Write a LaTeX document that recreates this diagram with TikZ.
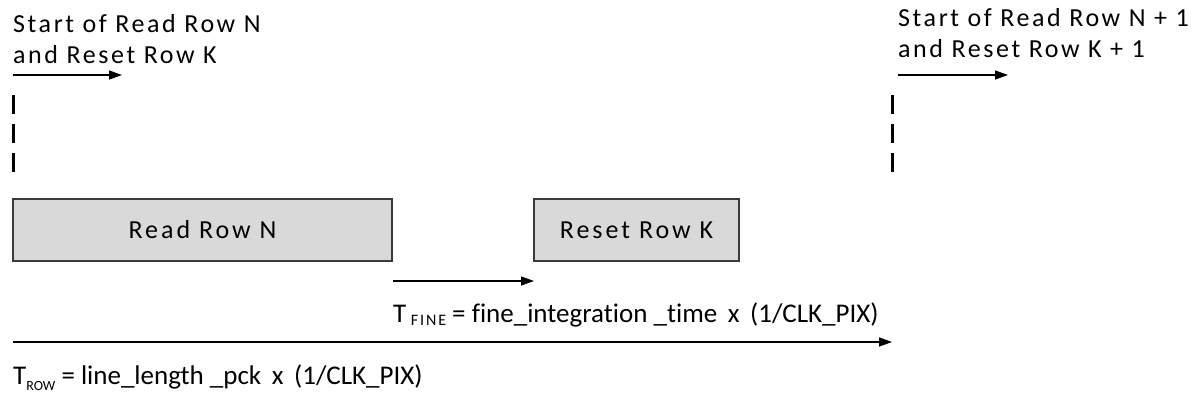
\documentclass[tikz,border=0pt]{standalone}
\usepackage{fontspec}
\setmainfont[Ligatures={NoCommon}]{Carlito}
\newfontfamily\spaced[LetterSpace=11.5,Ligatures={NoCommon}]{Carlito}
\newfontfamily\topspaced[LetterSpace=10,Ligatures={NoCommon}]{Carlito}
\newfontfamily\subspaced[LetterSpace=12]{Carlito}
\usetikzlibrary{arrows.meta}
\definecolor{boxfill}{HTML}{D9D9D9}
\definecolor{boxline}{HTML}{3A3A3A}
\tikzset{
  lbl/.style={inner sep=0pt, anchor=base west, align=left},
  toplbl/.style={lbl, font=\topspaced\fontsize{26}{30.5}\selectfont},
  eqlbl/.style={lbl, font=\fontsize{27}{32}\selectfont},
  rowbox/.style={draw=boxline, fill=boxfill, line width=1.4pt, minimum height=62pt, inner sep=0pt, font=\spaced\fontsize{26}{30}\selectfont},
  timearrow/.style={line width=1.3pt, -{Triangle[length=13pt,width=9pt]}},
  marker/.style={line width=3pt, dash pattern=on 19pt off 10pt}
}
\begin{document}
\begin{tikzpicture}[x=1pt,y=-1pt]
\useasboundingbox (0,0) rectangle (1199,407);
% top labels
\node[toplbl] (s1) at (13,63) {Start of Read Row N\\and Reset Row K};
\node[toplbl] (s2) at (898,57) {Start of Read Row N + 1\\and Reset Row K + 1};
\coordinate (a1s) at (13,75); \coordinate (a1e) at (122,75);
\coordinate (a2s) at (898,75); \coordinate (a2e) at (1008,75);
\draw[timearrow] (a1s) -- (a1e);
\draw[timearrow] (a2s) -- (a2e);
% markers
\coordinate (m1t) at (13,95); \coordinate (m1b) at (13,178);
\coordinate (m2t) at (892,95); \coordinate (m2b) at (892,178);
\draw[marker] (m1t) -- (m1b);
\draw[marker] (m2t) -- (m2b);
% boxes
\node[rowbox, minimum width=379pt] (rn) at (202.5,230) {Read Row N};
\node[rowbox, minimum width=205pt] (rk) at (636.5,230) {Reset Row K};
% fine arrow
\coordinate (f1) at (393,281); \coordinate (f2) at (534,281);
\draw[timearrow] (f1) -- (f2);
\node[eqlbl] (tf) at (393,322) {T\,\raisebox{-3pt}{\subspaced\fontsize{16}{20}\selectfont FINE} = fine\_integration \_time\, x\, (1/CLK\_PIX)};
% row arrow
\coordinate (r1) at (13,342); \coordinate (r2) at (892,342);
\draw[timearrow] (r1) -- (r2);
\node[eqlbl] (tr) at (13,384) {T\raisebox{-6pt}{\fontsize{14}{18}\selectfont ROW} = line\_length \_pck\, x\, (1/CLK\_PIX)};
\end{tikzpicture}
\end{document}
